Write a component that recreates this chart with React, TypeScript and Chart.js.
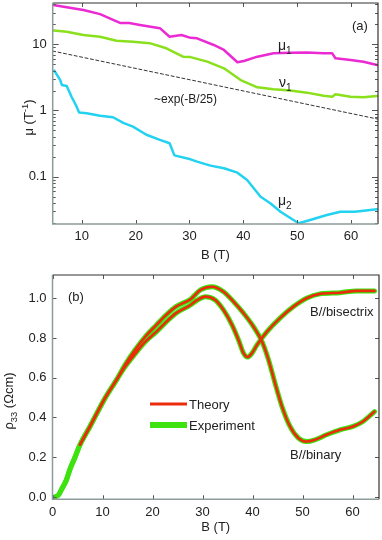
import React, { useEffect, useRef } from 'react';
import { Chart, registerables } from 'chart.js';
Chart.register(...registerables);

const FONT = '"Liberation Sans", Arial, Helvetica, sans-serif';

// ---------- Panel (a): mobilities vs field ----------
const mu1Field = [4.7, 7.2, 10.3, 13.4, 15.5, 17.1, 18.8, 20.8, 24.5, 26.3, 28.5, 30.2, 31.4, 34.5, 36.4, 38.9, 40.1, 42.6, 45.6, 48.7, 51.8, 54.9, 56.5, 57.1, 59.9, 62.3, 64.8];
const mu1Values = [39.3, 36.2, 33.0, 28.5, 24.0, 21.0, 21.0, 19.6, 17.5, 13.0, 13.8, 12.5, 12.3, 9.75, 8.2, 5.35, 5.6, 6.5, 7.3, 7.47, 7.5, 7.3, 7.3, 6.15, 5.8, 5.46, 4.86];

const nu1Field = [4.8, 7.2, 10.3, 13.4, 16.45, 19.5, 22.6, 25.7, 28.8, 30.2, 33.3, 36.4, 39.5, 42.6, 45.6, 48.7, 51.8, 54.9, 56.5, 57.1, 59.9, 62.3, 64.8];
const nu1Values = [16.1, 15.5, 13.8, 13.0, 11.3, 10.9, 10.4, 8.7, 6.5, 6.4, 5.46, 4.33, 2.88, 2.24, 2.09, 2.0, 1.86, 1.67, 1.61, 1.76, 1.61, 1.58, 1.65];

const mu2Field = [4.9, 6.0, 6.3, 7.2, 8.1, 9.05, 9.5, 10.9, 13.4, 15.8, 17.7, 19.5, 22.0, 24.5, 26.3, 27.2, 30.2, 31.4, 33.9, 36.4, 38.9, 40.7, 43.2, 45.0, 46.9, 49.3, 50.3, 52.4, 55.5, 58.0, 60.7, 64.8];
const mu2Values = [3.99, 2.88, 2.43, 2.34, 1.61, 1.14, 0.93, 0.91, 0.83, 0.79, 0.65, 0.57, 0.43, 0.36, 0.32, 0.21, 0.183, 0.169, 0.147, 0.134, 0.115, 0.089, 0.0499, 0.0398, 0.0296, 0.0222, 0.0198, 0.0222, 0.0264, 0.0296, 0.0296, 0.0323];

const fitField = [4.6, 65];
const fitValues = [7.9, 0.74];

const muTickValues = [0.02, 0.03, 0.04, 0.05, 0.06, 0.07, 0.08, 0.09, 0.1, 0.2, 0.3, 0.4, 0.5, 0.6, 0.7, 0.8, 0.9, 1, 2, 3, 4, 5, 6, 7, 8, 9, 10, 20, 30, 40];
const muMajorTicks = [0.1, 1, 10];
const muTickLabels = ['0.1', '1', '10'];
const fieldTicksA = [10, 20, 30, 40, 50, 60];

// ---------- Panel (b): rho33 vs field ----------
const lowField = [0.5, 1.2, 1.8, 2.8, 3.5, 4.5, 5.5, 7.5, 10.5, 12.8];
const lowValues = [0.0, 0.01, 0.037, 0.087, 0.14, 0.2, 0.263, 0.355, 0.497, 0.589];

const binaryField = [14.5, 16.5, 18.5, 20.8, 22.7, 24.7, 27.6, 29.6, 31.9, 34.2, 36.2, 38.2, 40.2, 41.9, 43.2, 44.5, 45.9, 47.5, 49.2, 50.8, 52.5, 54.8, 57.5, 60.1, 62.1, 64.4];
const binaryValues = [0.665, 0.74, 0.805, 0.866, 0.915, 0.958, 0.995, 1.042, 1.058, 1.033, 0.983, 0.925, 0.857, 0.782, 0.69, 0.573, 0.455, 0.355, 0.296, 0.279, 0.288, 0.313, 0.338, 0.355, 0.38, 0.43];

const bisectrixField = [14.5, 16.5, 18.5, 20.8, 22.7, 24.7, 27.6, 28.9, 30.6, 32.6, 34.2, 35.9, 37.2, 38.2, 39.0, 39.9, 40.9, 42.9, 45.5, 48.2, 50.8, 53.5, 57.5, 60.8, 64.4];
const bisectrixValues = [0.655, 0.72, 0.78, 0.832, 0.88, 0.925, 0.966, 0.99, 1.008, 0.99, 0.941, 0.866, 0.79, 0.724, 0.704, 0.724, 0.765, 0.832, 0.9, 0.958, 1.0, 1.022, 1.028, 1.037, 1.037];

const theoryStart = 5.5;
const rhoTicks = [0, 0.2, 0.4, 0.6, 0.8, 1.0];
const fieldTicksB = [0, 10, 20, 30, 40, 50, 60];

const zip = (xs: number[], ys: number[]) => xs.map((x, i) => ({ x, y: ys[i] }));

type Part = { t: string; s?: 'sub' | 'sup' };

function drawRich(ctx: CanvasRenderingContext2D, parts: Part[], x: number, y: number, size: number, align: 'left' | 'center', color = '#222') {
  ctx.save();
  ctx.fillStyle = color;
  ctx.textBaseline = 'alphabetic';
  ctx.textAlign = 'left';
  const sizes = parts.map(p => (p.s ? size * 0.72 : size));
  const widths = parts.map((p, i) => {
    ctx.font = `${sizes[i]}px ${FONT}`;
    return ctx.measureText(p.t).width;
  });
  const total = widths.reduce((a, b) => a + b, 0);
  let cx = align === 'center' ? x - total / 2 : x;
  parts.forEach((p, i) => {
    ctx.font = `${sizes[i]}px ${FONT}`;
    const dy = p.s === 'sub' ? size * 0.32 : p.s === 'sup' ? -size * 0.42 : 0;
    ctx.fillText(p.t, cx, y + dy);
    cx += widths[i];
  });
  ctx.restore();
}

type TickSpec = { v: number; len: number };

function makeFramePlugin(opts: {
  xTicks: TickSpec[];
  yTicks: TickSpec[];
  draw: (ctx: CanvasRenderingContext2D, chart: any) => void;
}) {
  return {
    id: 'frameDecor',
    afterDatasetsDraw(chart: any) {
      const ctx: CanvasRenderingContext2D = chart.ctx;
      const { left, right, top, bottom } = chart.chartArea;
      const xs = chart.scales.x;
      const ys = chart.scales.y;
      ctx.save();
      ctx.strokeStyle = '#555';
      ctx.lineWidth = 1;
      ctx.beginPath();
      opts.yTicks.forEach(t => {
        const py = Math.round(ys.getPixelForValue(t.v)) + 0.5;
        ctx.moveTo(left, py); ctx.lineTo(left + t.len, py);
        ctx.moveTo(right, py); ctx.lineTo(right - t.len, py);
      });
      opts.xTicks.forEach(t => {
        const px = Math.round(xs.getPixelForValue(t.v)) + 0.5;
        ctx.moveTo(px, bottom); ctx.lineTo(px, bottom - t.len);
        ctx.moveTo(px, top); ctx.lineTo(px, top + t.len);
      });
      ctx.stroke();
      ctx.strokeStyle = '#333';
      ctx.lineWidth = 1.2;
      ctx.beginPath();
      ctx.moveTo(left, top); ctx.lineTo(right, top); ctx.lineTo(right, bottom);
      ctx.stroke();
      ctx.strokeStyle = '#8d9b9b';
      ctx.lineWidth = 1.5;
      ctx.beginPath();
      ctx.moveTo(left, top); ctx.lineTo(left, bottom); ctx.lineTo(right, bottom);
      ctx.stroke();
      ctx.restore();
      opts.draw(ctx, chart);
    },
  };
}

const tickFont = { family: FONT, size: 13 };

const fitX = (h: number) => (s: any) => { s.height = h; s.paddingLeft = 0; s.paddingRight = 0; };
const fitY = (w: number) => (s: any) => { s.width = w; s.paddingTop = 0; s.paddingBottom = 0; };

export default function App() {
  const refA = useRef<HTMLCanvasElement>(null);
  const refB = useRef<HTMLCanvasElement>(null);

  useEffect(() => {
    const lineBase = { pointRadius: 0, fill: false, tension: 0, borderJoinStyle: 'round' as const, borderCapStyle: 'round' as const };

    // Note: Chart.js paints dataset 0 on top.
    const chartA = new Chart(refA.current!, {
      type: 'line',
      data: {
        datasets: [
          { ...lineBase, data: zip(mu2Field, mu2Values), borderColor: '#22d2f0', borderWidth: 2.5 },
          { ...lineBase, data: zip(mu1Field, mu1Values), borderColor: '#ea2ad2', borderWidth: 2.5 },
          { ...lineBase, data: zip(nu1Field, nu1Values), borderColor: '#8ae01c', borderWidth: 2.5 },
          { ...lineBase, data: zip(fitField, fitValues), borderColor: '#333', borderWidth: 1, borderDash: [3, 2.5] },
        ],
      },
      options: {
        responsive: false,
        animation: false,
        layout: { padding: { top: 3, right: 4, left: 0, bottom: 0 } },
        plugins: { legend: { display: false }, tooltip: { enabled: false } },
        scales: {
          x: {
            type: 'linear', min: 4.6, max: 65,
            grid: { display: false, drawTicks: false }, border: { display: false },
            afterBuildTicks: (s: any) => { s.ticks = fieldTicksA.map(v => ({ value: v })); },
            ticks: { color: '#222', font: tickFont, padding: 5, autoSkip: false, maxRotation: 0 },
            title: { display: true, text: 'B (T)', color: '#222', font: tickFont, padding: { top: 0, bottom: 7 } },
            afterFit: fitX(46),
          },
          y: {
            type: 'logarithmic', min: 0.0193, max: 42,
            grid: { display: false, drawTicks: false }, border: { display: false },
            afterBuildTicks: (s: any) => { s.ticks = muTickValues.map(v => ({ value: v })); },
            ticks: {
              color: '#222', font: tickFont, padding: 6, autoSkip: false,
              callback: (v: any) => { const i = muMajorTicks.indexOf(Number(v)); return i >= 0 ? muTickLabels[i] : ''; },
            },
            afterFit: fitY(52.7),
          },
        },
      },
      plugins: [makeFramePlugin({
        xTicks: fieldTicksA.map(v => ({ v, len: 4 })),
        yTicks: muTickValues.map(v => ({ v, len: muMajorTicks.includes(v) ? 6 : 3 })),
        draw: (ctx) => {
          ctx.save();
          ctx.translate(28, 117.5);
          ctx.rotate(-Math.PI / 2);
          drawRich(ctx, [{ t: 'μ (T' }, { t: '-1', s: 'sup' }, { t: ')' }], 0, 5, 13, 'center');
          ctx.restore();
          drawRich(ctx, [{ t: '(a)' }], 352, 30, 13, 'left');
          drawRich(ctx, [{ t: 'μ' }, { t: '1', s: 'sub' }], 278, 50, 14, 'left');
          drawRich(ctx, [{ t: 'ν' }, { t: '1', s: 'sub' }], 279, 87, 14, 'left');
          drawRich(ctx, [{ t: '~exp(-B/25)' }], 154, 103, 12, 'left');
          drawRich(ctx, [{ t: 'μ' }, { t: '2', s: 'sub' }], 278, 205, 14, 'left');
        },
      })],
    } as any);

    const binField = [...lowField, ...binaryField];
    const binVals = [...lowValues, ...binaryValues];
    const bisField = [...lowField, ...bisectrixField];
    const bisVals = [...lowValues, ...bisectrixValues];
    const theoryOf = (xs: number[], ys: number[]) => zip(xs, ys).filter(p => p.x >= theoryStart);
    const smooth = { ...lineBase, cubicInterpolationMode: 'monotone' as const };

    const chartB = new Chart(refB.current!, {
      type: 'line',
      data: {
        datasets: [
          { ...smooth, data: theoryOf(binField, binVals), borderColor: '#ec2a0c', borderWidth: 2.6 },
          { ...smooth, data: theoryOf(bisField, bisVals), borderColor: '#ec2a0c', borderWidth: 2.6 },
          { ...smooth, data: zip(binField, binVals), borderColor: '#3ee20e', borderWidth: 5 },
          { ...smooth, data: zip(bisField, bisVals), borderColor: '#3ee20e', borderWidth: 5 },
        ],
      },
      options: {
        responsive: false,
        animation: false,
        layout: { padding: { top: 5, right: 3, left: 0, bottom: 0 } },
        plugins: { legend: { display: false }, tooltip: { enabled: false } },
        scales: {
          x: {
            type: 'linear', min: 0, max: 65.3,
            grid: { display: false, drawTicks: false }, border: { display: false },
            afterBuildTicks: (s: any) => { s.ticks = fieldTicksB.map(v => ({ value: v })); },
            ticks: { color: '#222', font: tickFont, padding: 5, autoSkip: false, maxRotation: 0 },
            title: { display: true, text: 'B (T)', color: '#222', font: tickFont, padding: { top: 0, bottom: 5 } },
            afterFit: fitX(40.7),
          },
          y: {
            type: 'linear', min: -0.0116, max: 1.117,
            grid: { display: false, drawTicks: false }, border: { display: false },
            afterBuildTicks: (s: any) => { s.ticks = rhoTicks.map(v => ({ value: v })); },
            ticks: { color: '#222', font: tickFont, padding: 6, autoSkip: false, callback: (v: any) => Number(v).toFixed(1) },
            afterFit: fitY(52.5),
          },
        },
      },
      plugins: [makeFramePlugin({
        xTicks: fieldTicksB.map(v => ({ v, len: 4 })),
        yTicks: rhoTicks.map(v => ({ v, len: 4 })),
        draw: (ctx) => {
          ctx.save();
          ctx.translate(9, 131);
          ctx.rotate(-Math.PI / 2);
          drawRich(ctx, [{ t: 'ρ' }, { t: '33', s: 'sub' }, { t: ' (Ωcm)' }], 0, 4, 13, 'center');
          ctx.restore();
          drawRich(ctx, [{ t: '(b)' }], 68, 31, 13, 'left');
          drawRich(ctx, [{ t: 'B//bisectrix' }], 310, 45.5, 13, 'left');
          drawRich(ctx, [{ t: 'B//binary' }], 290, 188.5, 13, 'left');
          ctx.save();
          ctx.lineCap = 'butt';
          ctx.strokeStyle = '#ec2a0c';
          ctx.lineWidth = 3;
          ctx.beginPath(); ctx.moveTo(150, 134); ctx.lineTo(187, 134); ctx.stroke();
          ctx.strokeStyle = '#3ee20e';
          ctx.lineWidth = 6;
          ctx.beginPath(); ctx.moveTo(150, 155); ctx.lineTo(187, 155); ctx.stroke();
          ctx.restore();
          drawRich(ctx, [{ t: 'Theory' }], 189, 139, 13, 'left');
          drawRich(ctx, [{ t: 'Experiment' }], 189, 160, 13, 'left');
        },
      })],
    } as any);

    return () => { chartA.destroy(); chartB.destroy(); };
  }, []);

  return (
    <div style={{ position: 'absolute', left: 0, top: 0, width: 382, height: 540, background: '#fff' }}>
      <canvas ref={refA} width={382} height={270} style={{ position: 'absolute', left: 0, top: 0, width: 382, height: 270 }} />
      <canvas ref={refB} width={382} height={270} style={{ position: 'absolute', left: 0, top: 270, width: 382, height: 270 }} />
    </div>
  );
}
